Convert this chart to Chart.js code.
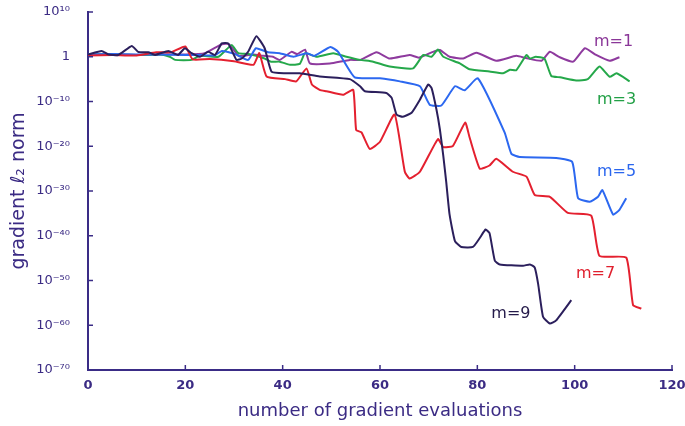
<!DOCTYPE html>
<html>
<head>
<meta charset="utf-8">
<script src="https://cdn.jsdelivr.net/npm/chart.js@4.4.1/dist/chart.umd.min.js"></script>
<style>
  html, body { margin: 0; padding: 0; background: #fff; }
  #wrap { width: 685px; height: 426px; }
</style>
</head>
<body>
<div id="wrap"><canvas id="grafico"></canvas></div>
<script>
// exponents of the gradient l2 norm (value = 10^y)
const m9X = [0, 2.8, 4.2, 6.2, 9.0, 10.3, 12.4, 13.8, 16.5, 18.5, 19.9, 21.3, 23, 24.7, 26.1, 27.5, 28.8, 30.5, 31.6, 32.9, 34.6, 36.3, 37.7, 40.5, 43.5, 47.6, 53.8, 55.9, 56.9, 61.3, 62.4, 63.4, 64.7, 66.5, 68.2, 69.9, 70.6, 71.6, 72.3, 73, 73.6, 74.3, 75.4, 76.7, 79.1, 80.5, 81.7, 82.5, 83.6, 84.6, 89.4, 90.8, 91.8, 92.5, 93.5, 94.9, 96.2, 99.3]
const m9Y = [0.5, 1.3, 0.5, 0.4, 2.4, 1.1, 1.0, 0.4, 1.3, 0.4, 1.9, 0.8, 0, 1.1, 0.4, 3.0, 3.0, -0.7, -0.4, 1.1, 4.6, 1.9, -3.3, -3.7, -3.7, -4.4, -5.0, -6.6, -7.7, -8.1, -9.2, -12.9, -13.4, -12.5, -9.6, -6.2, -7.0, -11.8, -16.2, -22.1, -27.9, -35.3, -41.2, -42.5, -42.5, -40.5, -38.6, -39.4, -45.6, -46.4, -46.7, -46.4, -47.1, -50.8, -58.1, -59.6, -58.9, -54.4]

const m7X = [0, 5, 10, 14, 17, 20, 21.5, 25, 30, 34, 35.2, 36.7, 40.5, 42.8, 44.9, 46, 47.6, 49, 52.4, 54.5, 55.1, 56.2, 57.9, 60, 63, 65.1, 66.1, 68.2, 71.9, 73, 75, 77.5, 78.4, 80.5, 82.5, 83.9, 87.3, 90.1, 91.8, 94.9, 98.6, 103.4, 105.1, 110.6, 112, 113.7]
const m7Y = [0.3, 0.4, 0.3, 1.0, 1.0, 2.3, -0.6, -0.5, -1.0, -1.8, 0.8, -4.4, -5.0, -5.5, -2.6, -6.2, -7.4, -7.7, -8.5, -7.4, -16.4, -16.9, -20.6, -19.0, -12.9, -25.7, -27.2, -25.7, -18.4, -20.2, -19.9, -14.7, -18.0, -25.0, -24.3, -22.8, -25.7, -26.8, -30.9, -31.3, -34.9, -35.5, -44.5, -44.9, -55.5, -56.3]

const m5X = [0, 5, 10, 15, 20, 23, 26, 27.5, 30, 32.9, 34.5, 37, 39.4, 42.2, 44.9, 46.5, 49.8, 51.4, 54.8, 60, 64.1, 68.2, 70.2, 72.6, 75.4, 77.4, 80.1, 85.6, 87, 88.7, 96.2, 99.5, 100.7, 103.1, 104.8, 105.7, 107.9, 109.2, 110.6]
const m5Y = [0.5, 0.6, 0.5, 0.5, 0.4, 0.4, 0.3, 1.3, 0.7, -0.7, 1.9, 1.0, 0.8, 0, 0.8, 0.2, 2.2, 1.1, -4.6, -4.8, -5.5, -6.6, -10.7, -10.9, -6.6, -7.5, -4.8, -16.9, -21.7, -22.4, -22.6, -23.5, -31.6, -32.4, -31.3, -29.8, -35.3, -34.2, -31.6]

const m3X = [0, 5, 10, 15, 16.8, 17.9, 21.3, 23, 26.8, 29.5, 30.9, 33, 36.3, 37.6, 39.4, 41.5, 43.5, 44.6, 47, 50.4, 53.1, 55.9, 58.6, 62, 66.8, 68.9, 70.6, 71.9, 73, 76.4, 78.4, 82.5, 85.3, 86.7, 88, 90.1, 90.8, 92, 93.8, 95.2, 97, 100.3, 102.7, 105.1, 107.2, 108.6, 111.3]
const m3Y = [0.5, 0.5, 0.4, 0.5, 0, -0.7, -0.7, 0.2, 0, 2.6, 0.8, 0.6, -0.4, -1.1, -1.1, -1.8, -1.6, 0.8, 0, 0.8, 0, -0.7, -1.1, -2.2, -2.6, 0.4, 0, 1.6, 0, -1.5, -2.8, -3.3, -3.7, -2.9, -3.0, 0.4, -0.4, 0, -0.4, -4.3, -4.6, -5.3, -5.0, -2.2, -4.5, -3.7, -5.5]

const m1X = [0, 5, 10, 15, 20, 24, 27.5, 29, 31, 34, 36, 38, 39.4, 41.8, 43, 44.6, 45.6, 49.7, 53.8, 56, 59.3, 62, 66.1, 68, 70.9, 72.3, 74.3, 77.1, 79.8, 83.9, 88, 90, 93.2, 94.9, 96.9, 99.7, 102.1, 104.4, 107.2, 109.2]
const m1Y = [0.5, 0.5, 0.4, 0.5, 0.5, 0.8, 2.8, 2.8, 0.2, 0.5, 0.2, 0, -0.7, 1.1, 0.6, 1.6, -1.5, -1.5, -0.7, -0.7, 1.0, -0.4, 0.4, -0.2, 1.1, 1.5, 0, -0.4, 0.9, -0.9, 0.2, -0.3, -0.9, 1.1, -0.1, -1.1, 1.9, 0.4, -0.9, -0.1]

const xTicks = [0, 20, 40, 60, 80, 100, 120]
const yTicks = [10, 0, -10, -20, -30, -40, -50, -60, -70]

// curve labels, placed in data coordinates
const curveLabels = [
    { text: 'm=1', x: 108, y: 3.3, color: '#8a3698' },
    { text: 'm=3', x: 108.6, y: -9.6, color: '#22a046' },
    { text: 'm=5', x: 108.6, y: -25.7, color: '#2a66ee' },
    { text: 'm=7', x: 104.3, y: -48.6, color: '#e0202e' },
    { text: 'm=9', x: 86.9, y: -57.5, color: '#241a4a' }
]

const inkAxis = '#3a2c86'
const inkText = '#3b2b84'
const sup = { '-': '⁻', '0': '⁰', '1': '¹', '2': '²', '3': '³', '4': '⁴', '5': '⁵', '6': '⁶', '7': '⁷', '8': '⁸', '9': '⁹' }
const potencia = (e) => e === 0 ? '1' : '10' + String(e).split('').map(c => sup[c]).join('')

const serie = (xs, ys) => xs.map((x, i) => ({ x: x, y: ys[i] }))

const estiloLinea = (label, datos, color) => ({
    label: label,
    data: datos,
    borderColor: color,
    backgroundColor: color,
    borderWidth: 2,
    pointRadius: 0,
    tension: 0.15
})

// small inward tick marks + curve labels
const extras = {
    id: 'extras',
    afterDatasetsDraw(chart) {
        const { ctx, scales: { x, y } } = chart
        ctx.save()
        ctx.strokeStyle = inkAxis
        ctx.lineWidth = 1.5
        yTicks.forEach(v => {
            const py = y.getPixelForValue(v)
            ctx.beginPath(); ctx.moveTo(x.left, py); ctx.lineTo(x.left + 5, py); ctx.stroke()
        })
        xTicks.forEach(v => {
            const px = x.getPixelForValue(v)
            ctx.beginPath(); ctx.moveTo(px, y.bottom); ctx.lineTo(px, y.bottom - 5); ctx.stroke()
        })
        ctx.font = '16px "DejaVu Sans"'
        ctx.textAlign = 'center'
        ctx.textBaseline = 'middle'
        curveLabels.forEach(l => {
            ctx.fillStyle = l.color
            ctx.fillText(l.text, x.getPixelForValue(l.x), y.getPixelForValue(l.y))
        })
        ctx.restore()
    }
}

const ctx = document.getElementById('grafico')

const data = {
    datasets: [
        estiloLinea('m=9', serie(m9X, m9Y), '#2b1f5c'),
        estiloLinea('m=7', serie(m7X, m7Y), '#e4202f'),
        estiloLinea('m=5', serie(m5X, m5Y), '#2c68f0'),
        estiloLinea('m=3', serie(m3X, m3Y), '#25a84a'),
        estiloLinea('m=1', serie(m1X, m1Y), '#8e3a9e')
    ]
}

const config = {
    type: 'line',
    data: data,
    plugins: [extras],
    options: {
        responsive: true,
        maintainAspectRatio: false,
        animation: false,
        layout: { padding: { top: 12, right: 13, left: 4, bottom: 0 } },
        plugins: {
            legend: { display: false },
            tooltip: { enabled: false }
        },
        scales: {
            x: {
                type: 'linear',
                min: 0,
                max: 120,
                afterBuildTicks: (scale) => { scale.ticks = xTicks.map(v => ({ value: v })) },
                afterFit: (scale) => { scale.height = 56; scale.paddingLeft = 0; scale.paddingRight = 0 },
                grid: { display: false, drawTicks: false },
                border: { display: true, color: inkAxis, width: 2 },
                ticks: { color: inkText, padding: 8, font: { size: 13, family: '"DejaVu Sans"', weight: 'bold' } },
                title: {
                    display: true,
                    text: 'number of gradient evaluations',
                    color: inkText,
                    padding: { top: 4 },
                    font: { size: 18, family: '"DejaVu Sans"' }
                }
            },
            y: {
                type: 'linear',
                min: -70,
                max: 10,
                afterBuildTicks: (scale) => { scale.ticks = yTicks.map(v => ({ value: v })) },
                afterFit: (scale) => { scale.width = 84; scale.paddingTop = 0; scale.paddingBottom = 0 },
                grid: { display: false, drawTicks: false },
                border: { display: true, color: inkAxis, width: 2 },
                ticks: {
                    color: inkText,
                    padding: 18,
                    font: { size: 13, family: '"DejaVu Sans"' },
                    callback: (v) => potencia(v)
                },
                title: {
                    display: true,
                    text: 'gradient ℓ₂ norm',
                    color: inkText,
                    padding: { bottom: 0 },
                    font: { size: 19, family: '"DejaVu Sans"' }
                }
            }
        }
    }
}

const myChart = new Chart(ctx, config)
</script>
</body>
</html>
